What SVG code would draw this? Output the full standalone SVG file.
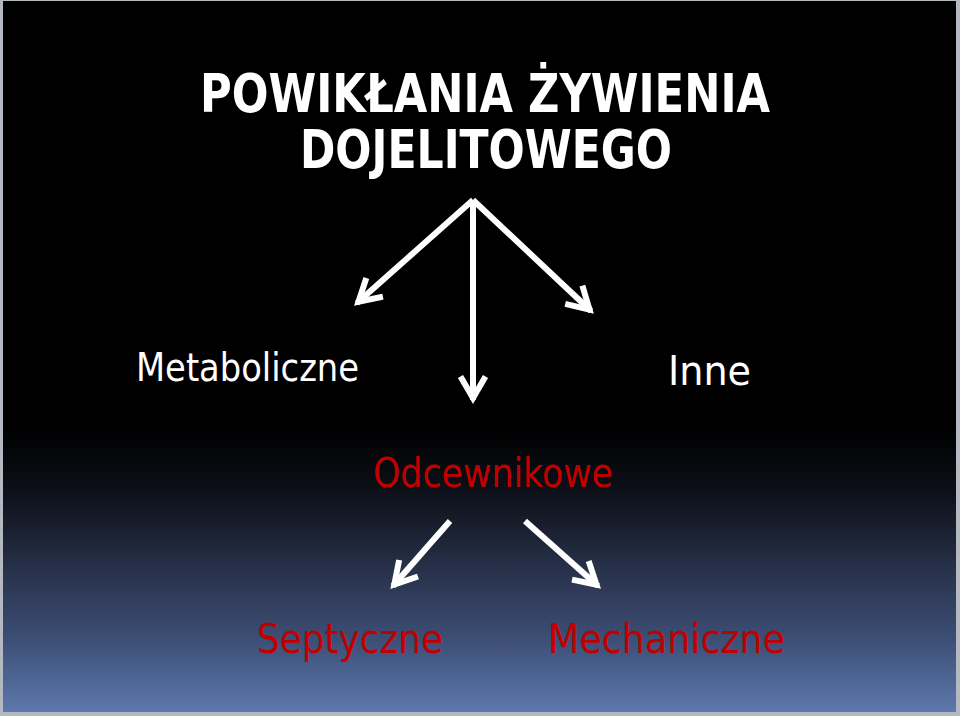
<svg xmlns="http://www.w3.org/2000/svg" width="960" height="716" viewBox="0 0 960 716">
<defs>
<linearGradient id="bg" x1="0" y1="0" x2="0" y2="1">
<stop offset="0" stop-color="#000000"/>
<stop offset="0.6" stop-color="#000000"/>
<stop offset="0.69" stop-color="#0d1018"/>
<stop offset="0.8" stop-color="#27314a"/>
<stop offset="0.9" stop-color="#3e4f76"/>
<stop offset="1" stop-color="#5c78ae"/>
</linearGradient>
<marker id="head" markerUnits="userSpaceOnUse" markerWidth="40" markerHeight="40" viewBox="-30 -20 40 40" refX="0" refY="0" orient="auto" overflow="visible">
<path d="M-21,-11 L-2,0 L-21,11" fill="none" stroke="#ffffff" stroke-width="6" stroke-linejoin="miter" stroke-linecap="square"/>
</marker>
<style>
.arrow{stroke:#ffffff;stroke-width:6;fill:none;marker-end:url(#head)}
.title{font-family:"DejaVu Sans Condensed","DejaVu Sans",sans-serif;font-weight:bold;font-size:53px;fill:#ffffff;text-anchor:middle}
.w{font-family:"DejaVu Sans Condensed","DejaVu Sans",sans-serif;fill:#ffffff}
.r{font-family:"DejaVu Sans Condensed","DejaVu Sans",sans-serif;font-size:41px;fill:#c00000}
</style>
</defs>
<rect x="0" y="0" width="960" height="716" fill="#b4b8c0"/>
<rect x="3" y="1" width="953" height="711" fill="url(#bg)"/>
<g id="title">
<text class="title" x="485" y="112" textLength="570" lengthAdjust="spacingAndGlyphs">POWIKŁANIA ŻYWIENIA</text>
<text class="title" x="486" y="168" textLength="372" lengthAdjust="spacingAndGlyphs">DOJELITOWEGO</text>
</g>
<g id="metaboliczne"><text class="w" x="136" y="381" font-size="39" textLength="223" lengthAdjust="spacingAndGlyphs">Metaboliczne</text></g>
<g id="inne"><text class="w" x="668" y="385" font-size="41" textLength="83" lengthAdjust="spacingAndGlyphs">Inne</text></g>
<g id="odcewnikowe"><text class="r" x="373" y="487" textLength="240" lengthAdjust="spacingAndGlyphs">Odcewnikowe</text></g>
<g id="septyczne"><text class="r" x="257" y="653" textLength="186" lengthAdjust="spacingAndGlyphs">Septyczne</text></g>
<g id="mechaniczne"><text class="r" x="548" y="653" textLength="237" lengthAdjust="spacingAndGlyphs">Mechaniczne</text></g>
<g id="connectors">
<line class="arrow" x1="473" y1="200" x2="357" y2="303"/>
<line class="arrow" x1="473" y1="200" x2="473" y2="400"/>
<line class="arrow" x1="473" y1="200" x2="591" y2="311"/>
<line class="arrow" x1="450" y1="521" x2="393" y2="586"/>
<line class="arrow" x1="525" y1="521" x2="598" y2="586"/>
</g>
</svg>
